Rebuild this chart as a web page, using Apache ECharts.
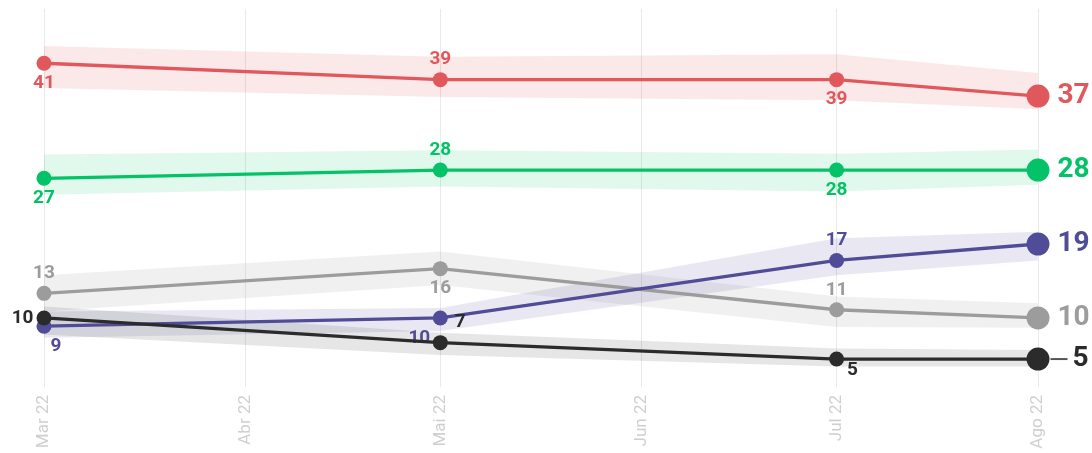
<!DOCTYPE html>
<html>
<head>
<meta charset="utf-8">
<script src="https://cdn.jsdelivr.net/npm/echarts@6/dist/echarts.min.js"></script>
<style>
  html, body { margin: 0; padding: 0; background: #ffffff; }
  #chart { width: 1092px; height: 453px; }
</style>
</head>
<body>
<div id="chart"></div>
<script>
// Poll dates and month ticks
const pollDates = ['2022-03-01', '2022-05-01', '2022-07-01', '2022-08-01'];
const tickDates = ['2022-03-01', '2022-04-01', '2022-05-01', '2022-06-01', '2022-07-01', '2022-08-01'];
const tickLabels = ['Mar 22', 'Abr 22', 'Mai 22', 'Jun 22', 'Jul 22', 'Ago 22'];

// Vote intention (%) with the margin of error band around each line
const redValues = [41, 39, 39, 37];
const redLow = [38, 36.9, 36.5, 35.4];
const redHigh = [43.1, 41.8, 42.1, 39.8];

const greenValues = [27, 28, 28, 28];
const greenLow = [25, 26, 25.4, 26.2];
const greenHigh = [29.9, 30.4, 30, 30.5];

const purpleValues = [9, 10, 17, 19];
const purpleLow = [7.6, 8.4, 15.2, 17];
const purpleHigh = [10.8, 11.2, 19.7, 20.5];

const grayValues = [13, 16, 11, 10];
const grayLow = [10.8, 14, 8.9, 8.8];
const grayHigh = [15.2, 18.1, 12.6, 11.8];

const blackValues = [10, 7, 5, 5];
const blackLow = [8, 5.5, 4.1, 4.1];
const blackHigh = [11.4, 8.2, 6.3, 6.1];

function toTime(s) {
  const p = s.split('-').map(Number);
  return new Date(p[0], p[1] - 1, p[2]).getTime();
}
const times = pollDates.map(toTime);
const tickTimes = tickDates.map(toTime);

const FONT = 'Roboto';

// Styling per line: colour, band tint and label placement of each point
const lines = [
  { name: 'gray', values: grayValues, low: grayLow, high: grayHigh,
    color: '#9c9c9c', band: 'rgba(160,160,160,0.16)',
    labels: [{ position: 'top' }, { position: 'bottom' }, { position: 'top' }] },
  { name: 'purple', values: purpleValues, low: purpleLow, high: purpleHigh,
    color: '#514c97', band: 'rgba(85,80,155,0.13)',
    labels: [{ position: 'bottom', offset: [12, 0] }, { position: 'bottom', offset: [-21, 0] }, { position: 'top' }] },
  { name: 'black', values: blackValues, low: blackLow, high: blackHigh,
    color: '#2b2b2b', band: 'rgba(60,60,60,0.13)',
    labels: [{ position: 'left' }, { position: 'top', offset: [20, 0] }, { position: 'right', offset: [0, 11] }],
    connector: true },
  { name: 'green', values: greenValues, low: greenLow, high: greenHigh,
    color: '#04c268', band: 'rgba(10,195,110,0.12)',
    labels: [{ position: 'bottom' }, { position: 'top' }, { position: 'bottom' }] },
  { name: 'red', values: redValues, low: redLow, high: redHigh,
    color: '#e1585c', band: 'rgba(225,88,92,0.13)',
    labels: [{ position: 'bottom' }, { position: 'top' }, { position: 'bottom' }] }
];

const series = [];

// Bands first so every line sits on top of them
lines.forEach(function (l) {
  series.push({
    type: 'line', name: l.name + '-low', stack: 'band-' + l.name,
    data: times.map(function (t, i) { return [t, l.low[i]]; }),
    symbol: 'none', lineStyle: { opacity: 0 }, silent: true, z: 1
  });
  series.push({
    type: 'line', name: l.name + '-band', stack: 'band-' + l.name,
    data: times.map(function (t, i) { return [t, l.high[i] - l.low[i]]; }),
    symbol: 'none', lineStyle: { opacity: 0 }, areaStyle: { color: l.band, opacity: 1 },
    silent: true, z: 1
  });
});

lines.forEach(function (l, idx) {
  const last = l.values.length - 1;
  const data = l.values.map(function (v, i) {
    if (i === last) {
      const endLabel = {
        show: true, position: 'right', distance: 8,
        color: l.color, fontFamily: FONT, fontWeight: 'bold', fontSize: 28
      };
      if (l.connector) {
        endLabel.distance = 1;
        endLabel.formatter = function (p) { return '{bar|}{gap|}{v|' + p.value[1] + '}'; };
        endLabel.rich = {
          bar: { width: 17, height: 2, backgroundColor: '#555555' },
          gap: { width: 5 },
          v: { color: l.color, fontFamily: FONT, fontWeight: 'bold', fontSize: 28 }
        };
      } else {
        endLabel.formatter = function (p) { return p.value[1]; };
      }
      return { value: [times[i], v], symbolSize: 23, label: endLabel };
    }
    const pl = l.labels[i];
    return {
      value: [times[i], v],
      label: {
        show: true, position: pl.position, offset: pl.offset || [0, 0], distance: 3,
        formatter: function (p) { return p.value[1]; }
      }
    };
  });
  series.push({
    type: 'line', name: l.name,
    data: data,
    symbol: 'circle', symbolSize: 15,
    lineStyle: { color: l.color, width: 3.3 },
    itemStyle: { color: l.color },
    label: { color: l.color, fontFamily: FONT, fontWeight: 'bold', fontSize: 19 },
    emphasis: { disabled: true },
    z: 3 + idx
  });
});

const chart = echarts.init(document.getElementById('chart'), null, { renderer: 'canvas' });
chart.setOption({
  animation: false,
  backgroundColor: '#ffffff',
  grid: { left: 44, right: 54, top: 9, bottom: 66 },
  xAxis: {
    type: 'time',
    min: tickTimes[0],
    max: tickTimes[tickTimes.length - 1],
    minInterval: 28 * 86400000,
    maxInterval: 31 * 86400000,
    axisLine: { show: false },
    axisTick: { show: false },
    splitLine: { show: true, lineStyle: { color: '#e9e9e9', width: 1 } },
    axisLabel: {
      rotate: 90, margin: 8, color: '#cfcfcf', fontFamily: FONT, fontSize: 17,
      showMinLabel: true, showMaxLabel: true, hideOverlap: false,
      formatter: function (value) {
        const d = new Date(value);
        const i = tickTimes.findIndex(function (t) {
          const td = new Date(t);
          return td.getFullYear() === d.getFullYear() && td.getMonth() === d.getMonth();
        });
        return i >= 0 ? tickLabels[i] : '';
      }
    }
  },
  yAxis: {
    type: 'value', min: 1.6, max: 47.6, show: false,
    splitLine: { show: false }
  },
  series: series
});
</script>
</body>
</html>
